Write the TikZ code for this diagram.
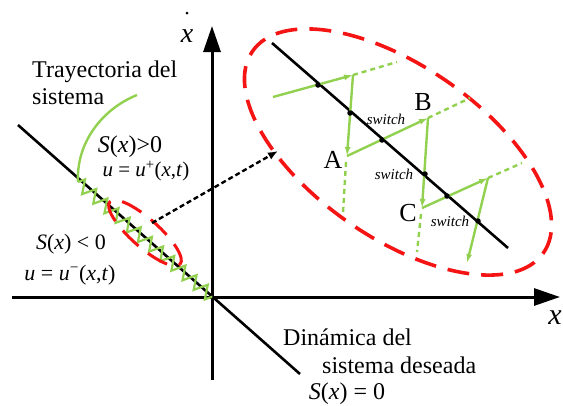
\documentclass[tikz,border=0pt]{standalone}
\usepackage{fontspec}
\setmainfont{Liberation Serif}
\usetikzlibrary{arrows.meta,decorations.pathmorphing}
\definecolor{lgreen}{RGB}{146,208,80}
\definecolor{dred}{RGB}{245,20,20}
\begin{document}
\begin{tikzpicture}[x=1pt,y=-1pt,
  axis/.style={line width=3pt,-{Triangle[length=26pt,width=17pt]}},
  slide/.style={line width=2.6pt},
  zig/.style={lgreen,line width=2.2pt,line join=miter,decorate,
    decoration={zigzag,segment length=14.7pt,amplitude=6.5pt}},
  traj/.style={lgreen,line width=2.4pt,-{Latex[length=9pt,width=6pt]}},
  trajdash/.style={lgreen,line width=2.4pt,dash pattern=on 5pt off 4pt},
  redell/.style={dred,line width=3.6pt,dash pattern=on 22pt off 12pt},
  dotarrow/.style={line width=2.4pt,dash pattern=on 5pt off 3pt,-{Latex[length=10pt,width=8pt]}},
  sdot/.style={circle,fill=black,inner sep=0pt,minimum size=5.5pt},
  lbl/.style={font=\fontsize{24}{27}\selectfont,inner sep=0pt},
  ulbl/.style={font=\fontsize{21}{24}\selectfont,inner sep=0pt},
  pt/.style={font=\fontsize{26}{28}\selectfont,inner sep=0pt},
  sw/.style={font=\fontsize{15}{16}\selectfont\itshape,inner sep=0pt}]
\useasboundingbox (0,0) rectangle (563,405);
% axes
\coordinate (O) at (212,297);
\coordinate (xl) at (12,297);
\coordinate (xr) at (560,297);
\coordinate (yb) at (212,380);
\coordinate (yt) at (212,26);
\draw[axis] (xl) -- (xr);
\draw[axis] (yb) -- (yt);
% sliding line
\coordinate (s1) at (18,125);
\coordinate (s2) at (300,374);
\draw[slide] (s1) -- (s2);
% trajectory curve and zigzag
\coordinate (c0) at (137,95);
\coordinate (z0) at (78,182);
\draw[lgreen,line width=2.4pt] (c0) .. controls (100,110) and (76,145) .. (z0);
\draw[zig] (z0) -- (O);
% small ellipse
\coordinate (se) at (145,233);
\draw[redell,line width=3pt] (se) ellipse[x radius=47pt,y radius=14pt,rotate=-41.6];
% dotted arrow
\coordinate (da) at (152,223);
\coordinate (db) at (278,151);
\draw[dotarrow] (da) -- (db);
% big ellipse
\coordinate (be) at (398,152);
\draw[redell] (be) ellipse[x radius=177pt,y radius=86pt,rotate=-34.7];
% inner sliding line
\coordinate (i1) at (272,43);
\coordinate (i2) at (508,248);
\draw[slide] (i1) -- (i2);
% trajectory points
\coordinate (g0) at (273,97);
\coordinate (T1) at (353,75);
\coordinate (T1e) at (397,62);
\coordinate (A1) at (347,156);
\coordinate (A1s) at (346,162);
\coordinate (A1e) at (343,213);
\coordinate (T2) at (428,118);
\coordinate (T2e) at (470,98);
\coordinate (C1) at (422,208);
\coordinate (C1s) at (421,214);
\coordinate (C1e) at (417,252);
\coordinate (T3) at (488,178);
\coordinate (T3e) at (522,163);
\coordinate (E) at (467,263);
\draw[traj] (g0) -- (T1);
\draw[trajdash] (T1) -- (T1e);
\draw[traj] (T1) -- (A1);
\draw[trajdash] (A1s) -- (A1e);
\draw[traj] (A1) -- (T2);
\draw[trajdash] (T2) -- (T2e);
\draw[traj] (T2) -- (C1);
\draw[trajdash] (C1s) -- (C1e);
\draw[traj] (C1) -- (T3);
\draw[trajdash] (T3) -- (T3e);
\draw[traj] (T3) -- (E);
% switching dots
\node[sdot] (d1) at (318,85) {};
\node[sdot] (d2) at (350,113) {};
\node[sdot] (d3) at (382,140) {};
\node[sdot] (d4) at (425,174) {};
\node[sdot] (d5) at (447,196) {};
\node[sdot] (d6) at (478,221) {};
% point labels
\node[pt] (lA) at (333,160) {A};
\node[pt] (lB) at (423,102) {B};
\node[pt] (lC) at (408,213) {C};
\node[sw] (sw1) at (386,119) {switch};
\node[sw] (sw2) at (394,174) {switch};
\node[sw] (sw3) at (450,221) {switch};
% text labels
\node[lbl,align=left,anchor=west] (tr) at (32,83) {Trayectoria del\\sistema};
\node[lbl] (sp) at (130,147) {\textit{S}(\textit{x})>0};
\node[ulbl] (up) at (146,171) {\textit{u} = \textit{u}\textsuperscript{+}(\textit{x},\textit{t})};
\node[lbl,font=\fontsize{22}{24}\selectfont] (sn) at (71,244) {\textit{S}(\textit{x}) < 0};
\node[lbl,font=\fontsize{22}{24}\selectfont] (un) at (70,275) {\textit{u} = \textit{u}\textsuperscript{−}(\textit{x},\textit{t})};
\node[lbl,anchor=west] (din) at (283,337) {Dinámica del};
\node[lbl,anchor=west] (sis) at (322,365) {sistema deseada};
\node[lbl] (s0) at (347,394) {\textit{S}(\textit{x}) = 0};
\node[lbl,font=\fontsize{30}{32}\selectfont\itshape] (xlab) at (555,318) {x};
\node[lbl,font=\fontsize{28}{30}\selectfont\itshape] (xdlab) at (187,36) {x};
\node[circle,fill=black,inner sep=0pt,minimum size=3pt] (xdot) at (187,13) {};
\end{tikzpicture}
\end{document}
